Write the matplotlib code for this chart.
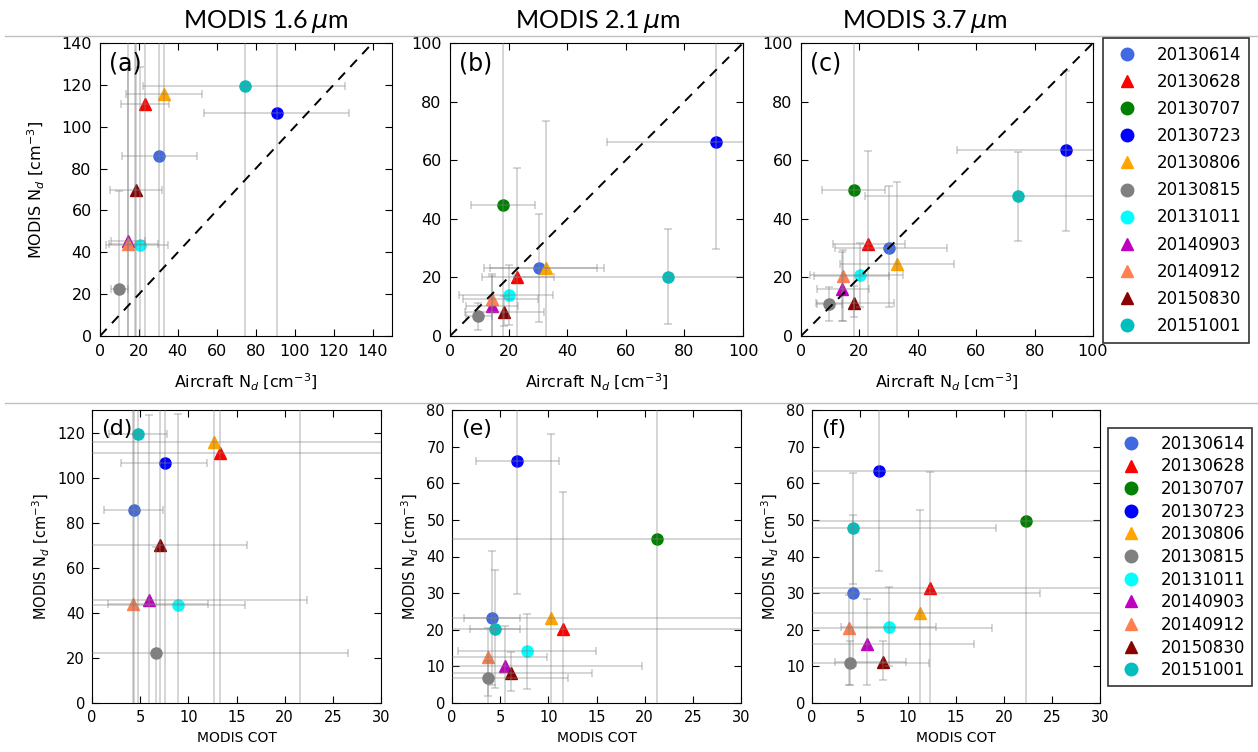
import matplotlib
matplotlib.use('Agg')
import matplotlib.pyplot as plt
from matplotlib.lines import Line2D
import numpy as np

# flight dates and plotting style for each
dates = ['20130614', '20130628', '20130707', '20130723', '20130806', '20130815',
         '20131011', '20140903', '20140912', '20150830', '20151001']
markers = ['o', '^', 'o', 'o', '^', 'o', 'o', '^', '^', '^', 'o']
colors = ['royalblue', 'red', 'green', 'blue', 'orange', 'gray',
          'cyan', 'm', 'coral', 'darkred', 'c']

# aircraft Nd (cm-3) with low / high ends of the error bar
air_nd = [30.3, 23.0, 18.0, 90.8, 32.8, 9.6, 20.3, 14.2, 14.5, 18.3, 74.3]
air_lo = [11.5, 11.0, 7.2, 53.5, 13.5, 5.5, 3.2, 5.5, 4.5, 5.0, 22.0]
air_hi = [50.0, 35.5, 28.9, 128.0, 52.5, 14.2, 35.0, 23.3, 30.0, 32.0, 126.0]

# MODIS Nd for each band (values beyond the axes run off-scale)
nd16 = [85.8, 111.0, 150.0, 106.7, 115.8, 22.3, 43.5, 45.6, 44.0, 69.9, 119.3]
nd16_lo = [-20, -20, -20, -20, -20, -20, -20, -20, -20, -20, -20]
nd16_hi = [200, 200, 300, 200, 200, 69.4, 128.4, 127.7, 200, 200, 200]

nd21 = [23.2, 20.2, 44.8, 66.1, 23.2, 6.9, 14.1, 10.1, 12.5, 8.1, 20.3]
nd21_lo = [4.9, -10, -10, 29.8, -10, 1.9, 3.8, -10, -10, 3.3, 4.1]
nd21_hi = [41.5, 57.5, 200, 200, 73.5, 11.4, 24.2, 21.1, 20.6, 13.8, 36.4]

nd37 = [30.1, 31.3, 49.7, 63.4, 24.6, 11.0, 20.8, 16.2, 20.4, 11.2, 47.8]
nd37_lo = [10.0, -10, -10, 36.0, -10, 5.0, 10.0, 5.0, 5.0, 6.4, 32.5]
nd37_hi = [51.3, 63.0, 200, 90.6, 52.7, 16.8, 31.6, 28.5, 29.5, 16.9, 62.7]

# MODIS COT for each band
cot16 = [4.32, 13.3, 21.6, 7.54, 12.7, 6.64, 8.88, 5.88, 4.25, 7.09, 4.77]
cot16_lo = [1.2, -5, 15.0, 3.04, -5, -5, -5, -5, 1.7, -5, 1.8]
cot16_hi = [7.36, 40, 28.0, 11.9, 40, 26.6, 15.9, 22.3, 12.0, 16.1, 7.8]

cot21 = [4.16, 11.5, 21.3, 6.79, 10.3, 3.74, 7.8, 5.54, 3.74, 6.17, 4.43]
cot21_lo = [1.2, -5, -5, 2.46, -5, -5, 0.6, -5, -5, -5, 1.84]
cot21_hi = [7.03, 40, 40, 11.08, 40, 12.05, 14.9, 19.7, 9.87, 14.5, 7.03]

cot37 = [4.27, 12.3, 22.3, 6.94, 11.3, 3.92, 7.98, 5.72, 3.82, 7.35, 4.23]
cot37_lo = [-5, -5, -5, -5, -5, -5, 3.0, -5, -5, 2.4, -5]
cot37_hi = [23.8, 40, 40, 40, 40, 12.2, 12.9, 16.9, 18.7, 9.8, 19.2]


def draw_panel(ax, x, xlo, xhi, y, ylo, yhi):
    """scatter with grey asymmetric error bars drawn over the markers"""
    for i in range(len(dates)):
        xe = [[x[i] - xlo[i]], [xhi[i] - x[i]]]
        ye = [[y[i] - ylo[i]], [yhi[i] - y[i]]]
        ax.errorbar(x[i], y[i], xerr=xe, yerr=ye, fmt='none', ecolor='0.5',
                    alpha=0.35, elinewidth=1.3, capsize=3, capthick=1.3, zorder=3)
        ax.plot(x[i], y[i], marker=markers[i], color=colors[i], ms=8,
                mec=colors[i], ls='none', zorder=2)
    ax.tick_params(direction='in', top=True, right=True, length=5)


def px_axes(fig, left, top, right, bottom):
    W, H = 1258.0, 752.0
    return fig.add_axes([left / W, 1 - bottom / H, (right - left) / W, (bottom - top) / H])


fig = plt.figure(figsize=(12.58, 7.52), dpi=100)

# separator lines between the two figure rows
fig.add_artist(Line2D([5 / 1258, 1], [1 - 36 / 752] * 2, color='0.75', lw=1))
fig.add_artist(Line2D([5 / 1258, 1], [1 - 403 / 752] * 2, color='0.75', lw=1))

# band titles
for xc, band in [(265, '1.6'), (597, '2.1'), (924, '3.7')]:
    fig.text(xc / 1258, 1 - 28 / 752, 'MODIS ' + band + r'$\,\mu$m', ha='center',
             va='baseline', fontsize=18, family='Lato')

# top row: MODIS Nd vs aircraft Nd
top_pos = [(100, 392), (450, 743), (801, 1093)]
top_nd = [(nd16, nd16_lo, nd16_hi), (nd21, nd21_lo, nd21_hi), (nd37, nd37_lo, nd37_hi)]
top_lim = [150, 100, 100]
for k, tag in enumerate(['(a)', '(b)', '(c)']):
    ax = px_axes(fig, top_pos[k][0], 43, top_pos[k][1], 336)
    draw_panel(ax, air_nd, air_lo, air_hi, *top_nd[k])
    lim = top_lim[k]
    ax.plot([0, lim], [0, lim], 'k--', lw=1.4, dashes=(5, 4), zorder=4)
    ax.set_xlim(0, lim)
    ax.set_ylim(0, 140 if lim == 150 else 100)
    ax.set_xticks(np.arange(0, lim, 20) if lim == 150 else np.arange(0, 101, 20))
    ax.set_yticks(np.arange(0, 141, 20) if lim == 150 else np.arange(0, 101, 20))
    ax.tick_params(labelsize=11.5, pad=6)
    ax.text(0.03, 0.97, tag, transform=ax.transAxes, fontsize=17, va='top')
    ax.set_xlabel(r'Aircraft N$_d$ [cm$^{-3}$]', fontsize=11.5, labelpad=9)
    if k == 0:
        ax.set_ylabel(r'MODIS N$_d$ [cm$^{-3}$]', fontsize=11.5, labelpad=10)

# bottom row: MODIS Nd vs MODIS COT
bot_pos = [(92, 381), (452, 741), (812, 1100)]
bot_cot = [(cot16, cot16_lo, cot16_hi), (cot21, cot21_lo, cot21_hi), (cot37, cot37_lo, cot37_hi)]
for k, tag in enumerate(['(d)', '(e)', '(f)']):
    ax = px_axes(fig, bot_pos[k][0], 410, bot_pos[k][1], 703)
    draw_panel(ax, *bot_cot[k], *top_nd[k])
    ax.set_xlim(0, 30)
    ax.set_xticks(np.arange(0, 31, 5))
    if k == 0:
        ax.set_ylim(0, 130)
        ax.set_yticks(np.arange(0, 121, 20))
    else:
        ax.set_ylim(0, 80)
        ax.set_yticks(np.arange(0, 81, 10))
    ax.tick_params(labelsize=10.5, pad=5)
    ax.text(0.03, 0.97, tag, transform=ax.transAxes, fontsize=16, va='top')
    ax.set_xlabel('MODIS COT', fontsize=10)
    ax.set_ylabel(r'MODIS N$_d$ [cm$^{-3}$]', fontsize=10.5)

# legends
handles = [Line2D([], [], marker=markers[i], color=colors[i], ls='none', ms=9)
           for i in range(len(dates))]
leg1 = fig.legend(handles, dates, loc='upper left', bbox_to_anchor=(1103 / 1258, 1 - 38 / 752),
                  fontsize=12, labelspacing=0.55, handletextpad=0.75, borderpad=0.45,
                  borderaxespad=0, fancybox=False, edgecolor='k', numpoints=1)
leg1.get_frame().set_linewidth(1.2)
leg2 = fig.legend(handles, dates, loc='upper left', bbox_to_anchor=(1108 / 1258, 1 - 428 / 752),
                  fontsize=12, labelspacing=0.28, handletextpad=0.75, borderpad=0.4,
                  borderaxespad=0, fancybox=False, edgecolor='k', numpoints=1)
leg2.get_frame().set_linewidth(1.2)

plt.savefig('out.png', dpi=100)
plt.close()
